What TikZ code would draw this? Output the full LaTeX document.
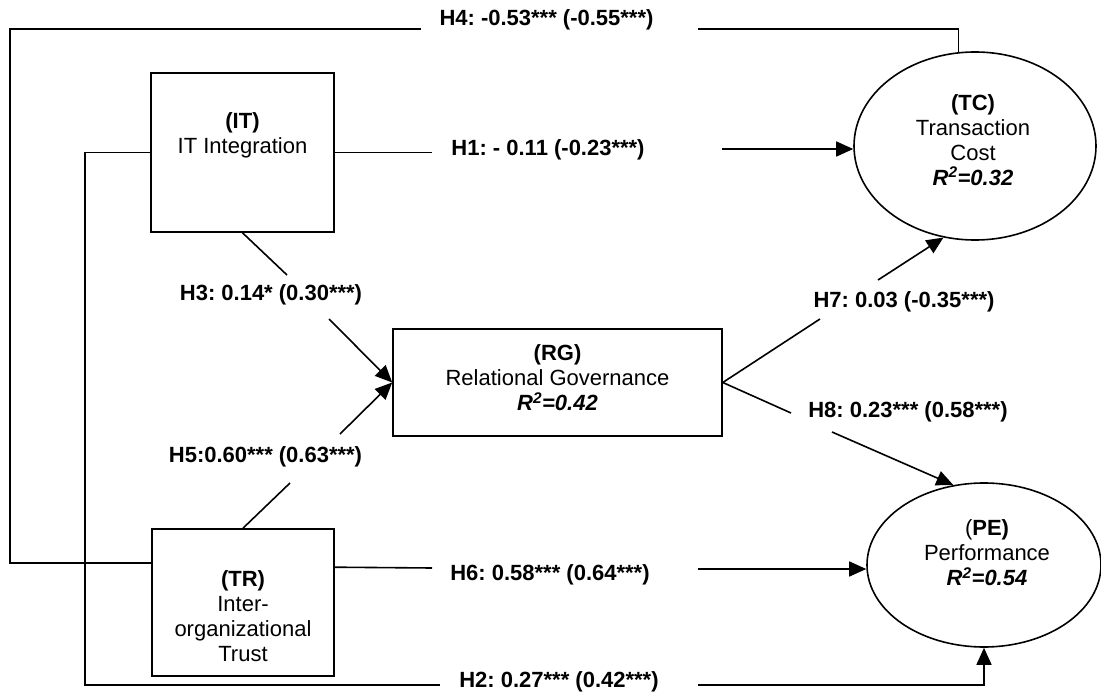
\documentclass[tikz,border=0pt]{standalone}
\usepackage{fontspec}
\setmainfont{Liberation Sans}
\usetikzlibrary{arrows.meta,shapes.geometric}
\begin{document}
\frenchspacing
\begin{tikzpicture}[x=1pt,y=-1pt,line width=1.6pt,
  box/.style={draw,rectangle,inner sep=0pt},
  oval/.style={draw,ellipse,inner sep=0pt},
  txt/.style={align=center,font=\fontsize{22}{25}\selectfont\frenchspacing,inner sep=0pt},
  lab/.style={font=\fontsize{22}{25}\selectfont\bfseries\frenchspacing,inner sep=0pt},
  arr/.style={-{Triangle[length=17pt,width=15pt]}}]
\fill[white] (0,0) rectangle (1101,695);
\useasboundingbox (0,0) rectangle (1101,695);

% constructs
\node[box,minimum width=183pt,minimum height=159pt] (IT) at (242.5,152.5) {};
\node[box,minimum width=182pt,minimum height=147pt] (TR) at (243,602.5) {};
\node[box,minimum width=329pt,minimum height=107pt] (RG) at (557.5,382.5) {};
\node[oval,minimum width=242pt,minimum height=188pt] (TC) at (975,146) {};
\node[oval,minimum width=234pt,minimum height=164pt] (PE) at (984,565) {};

% texts
\node[txt] (ITt) at (242.5,135) {\textbf{(IT)}\\IT Integration};
\node[txt] (TRt) at (243,616) {\textbf{(TR)}\\Inter-\\organizational\\Trust};
\node[txt] (RGt) at (557.5,378) {\textbf{(RG)}\\Relational Governance\\{\bfseries\itshape R\textsuperscript{2}=0.42}};
\node[txt] (TCt) at (973,140) {\textbf{(TC)}\\Transaction\\Cost\\{\bfseries\itshape R\textsuperscript{2}=0.32}};
\node[txt] (PEt) at (987,553) {(\textbf{PE)}\\Performance\\{\bfseries\itshape R\textsuperscript{2}=0.54}};

% path labels
\node[lab] (L4) at (546.5,20) {H4: -0.53*** (-0.55***)};
\node[lab] (L1) at (548,150) {H1: - 0.11 (-0.23***)};
\node[lab] (L3) at (271,295) {H3: 0.14* (0.30***)};
\node[lab] (L5) at (265.5,457) {H5:0.60*** (0.63***)};
\node[lab] (L7) at (904,302) {H7: 0.03 (-0.35***)};
\node[lab] (L8) at (908,412) {H8: 0.23*** (0.58***)};
\node[lab] (L6) at (550,575) {H6: 0.58*** (0.64***)};
\node[lab] (L2) at (559,682) {H2: 0.27*** (0.42***)};

% free ends of connectors (at the label gaps)
\coordinate (h1a) at (432,152.5);
\coordinate (h1b) at (722,149);
\coordinate (h3a) at (287,275);
\coordinate (h3b) at (329,319);
\coordinate (h5a) at (290,483);
\coordinate (h5b) at (340,434);
\coordinate (h7a) at (820,319);
\coordinate (h7b) at (878,280);
\coordinate (h8a) at (791,413);
\coordinate (h8b) at (832,432);
\coordinate (h6a) at (432,568);
\coordinate (h6b) at (698,569);
\coordinate (h2a) at (440,685);
\coordinate (h2b) at (698,685);
\coordinate (h4a) at (421,29);
\coordinate (h4b) at (698,29);

% connectors
\draw (IT.east) -- (h1a);
\draw[arr] (h1b) -- (h1b -| TC.west);
\draw (IT.south) -- (h3a);
\draw[arr] (h3b) -- (RG.west);
\draw (TR.north) -- (h5a);
\draw[arr] (h5b) -- (RG.west);
\draw (RG.east) -- (h7a);
\draw[arr] (h7b) -- (TC.251);
\draw (RG.east) -- (h8a);
\draw[arr] (h8b) -- (PE.111);
\draw ([yshift=-39pt]TR.north east) -- (h6a);
\draw[arr] (h6b) -- (h6b -| PE.west);
\draw (IT.west) -- ++(-65,0) |- (h2a);
\draw[arr] (h2b) -| (PE.south);
\draw ([yshift=-35pt]TR.north west) -- ++(-141,0) |- (h4a);
\draw (h4b) -| (TC.100);
\end{tikzpicture}
\end{document}
